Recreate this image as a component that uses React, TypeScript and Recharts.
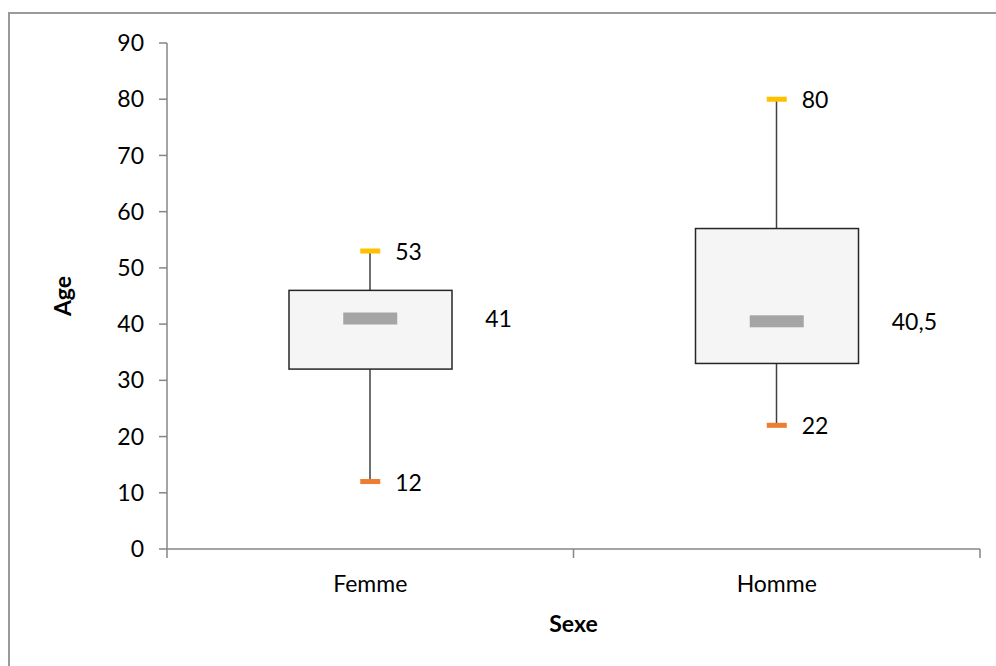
import { ComposedChart, Bar, Scatter, XAxis, YAxis } from "recharts";

const sexes = ["Femme", "Homme"];
const minAge = [12, 22];
const q1Age = [32, 33];
const medianAge = [41, 40.5];
const q3Age = [46, 57];
const maxAge = [53, 80];
const ageTicks = [0, 10, 20, 30, 40, 50, 60, 70, 80, 90];
const bandTicks = [0, 0.5, 1, 1.5, 2];

const data = sexes.map((sexe, i) => ({
    sexe,
    pos: i + 0.5,
    whisker: [minAge[i], maxAge[i]],
    box: [q1Age[i], q3Age[i]],
    min: minAge[i],
    median: medianAge[i],
    max: maxAge[i],
}));

const FONT = "Lato, 'Noto Sans', sans-serif";
const fmt = (v: number) => String(v).replace(".", ",");

const Whisker = (props: any) => {
    const { x, y, width, height } = props;
    const cx = x + width / 2;
    return <line x1={cx} x2={cx} y1={y} y2={y + height} stroke="#404040" strokeWidth={1.5} />;
};

const BoxShape = (props: any) => {
    const { x, y, width, height } = props;
    return <rect x={x} y={y} width={width} height={height} fill="#f5f5f5" stroke="#262626" strokeWidth={1.5} />;
};

const MaxCap = (props: any) => {
    const { cx, cy, payload } = props;
    return (
        <g>
            <rect x={cx - 10} y={cy - 2.5} width={20} height={5} fill="#ffc000" />
            <text x={cx + 25} y={cy} dominantBaseline="central" fontSize={23} fill="#000">{fmt(payload.max)}</text>
        </g>
    );
};

const MinCap = (props: any) => {
    const { cx, cy, payload } = props;
    return (
        <g>
            <rect x={cx - 10} y={cy - 2.5} width={20} height={5} fill="#ed7d31" />
            <text x={cx + 25} y={cy} dominantBaseline="central" fontSize={23} fill="#000">{fmt(payload.min)}</text>
        </g>
    );
};

const MedianMark = (props: any) => {
    const { cx, cy, payload } = props;
    return (
        <g>
            <rect x={cx - 27} y={cy - 6} width={54} height={12} fill="#a5a5a5" />
            <text x={cx + 115} y={cy} dominantBaseline="central" fontSize={23} fill="#000">{fmt(payload.median)}</text>
        </g>
    );
};

const BandTick = (props: any) => {
    const { x, payload } = props;
    const v = payload.value;
    if (Number.isInteger(v)) {
        return <line x1={x} x2={x} y1={549} y2={558} stroke="#868686" strokeWidth={1.5} />;
    }
    return (
        <text x={x} y={592} textAnchor="middle" fontSize={23} fill="#000">{sexes[Math.floor(v)]}</text>
    );
};

export default function App() {
    return (
        <div style={{ position: "absolute", left: 0, top: 0, width: 996, height: 666, background: "#fff", overflow: "hidden" }}>
            <div style={{ position: "absolute", left: 8, top: 12, width: 1100, height: 800, borderTop: "2px solid #9a9a9a", borderLeft: "2px solid #9a9a9a" }} />
            <ComposedChart
                width={996}
                height={666}
                data={data}
                margin={{ top: 43, right: 16, bottom: 17, left: 47 }}
                style={{ fontFamily: FONT, position: "absolute", left: 0, top: 0 }}
            >
                <XAxis
                    xAxisId="t"
                    type="number"
                    dataKey="pos"
                    domain={[0, 2]}
                    allowDataOverflow
                    ticks={bandTicks}
                    interval={0}
                    height={100}
                    tickLine={false}
                    axisLine={{ stroke: "#868686", strokeWidth: 1.5 }}
                    tick={<BandTick />}
                    label={{
                        content: (p: any) => (
                            <text x={p.viewBox.x + p.viewBox.width / 2} y={632} textAnchor="middle" fontSize={23} fontWeight={700} fill="#000">Sexe</text>
                        ),
                    }}
                />
                <XAxis xAxisId="w" dataKey="sexe" type="category" orientation="top" hide />
                <XAxis xAxisId="b" dataKey="sexe" type="category" orientation="top" hide />
                <YAxis
                    domain={[0, 90]}
                    ticks={ageTicks}
                    interval={0}
                    width={120}
                    tickSize={8}
                    tickMargin={15}
                    axisLine={{ stroke: "#868686", strokeWidth: 1.5 }}
                    tickLine={{ stroke: "#868686", strokeWidth: 1.5 }}
                    tick={{ fontSize: 23, fill: "#000", fontFamily: FONT }}
                    label={{
                        content: (p: any) => {
                            const cx = 62;
                            const cy = p.viewBox.y + p.viewBox.height / 2;
                            return (
                                <text x={cx} y={cy} transform={`rotate(-90 ${cx} ${cy})`} textAnchor="middle" dominantBaseline="central" fontSize={23} fontWeight={700} fill="#000">Age</text>
                            );
                        },
                    }}
                />
                <Bar xAxisId="w" dataKey="whisker" barSize={20} shape={<Whisker />} isAnimationActive={false} />
                <Bar xAxisId="b" dataKey="box" barSize={163} shape={<BoxShape />} isAnimationActive={false} />
                <Scatter xAxisId="t" dataKey="median" shape={<MedianMark />} isAnimationActive={false} />
                <Scatter xAxisId="t" dataKey="max" shape={<MaxCap />} isAnimationActive={false} />
                <Scatter xAxisId="t" dataKey="min" shape={<MinCap />} isAnimationActive={false} />
            </ComposedChart>
        </div>
    );
}
